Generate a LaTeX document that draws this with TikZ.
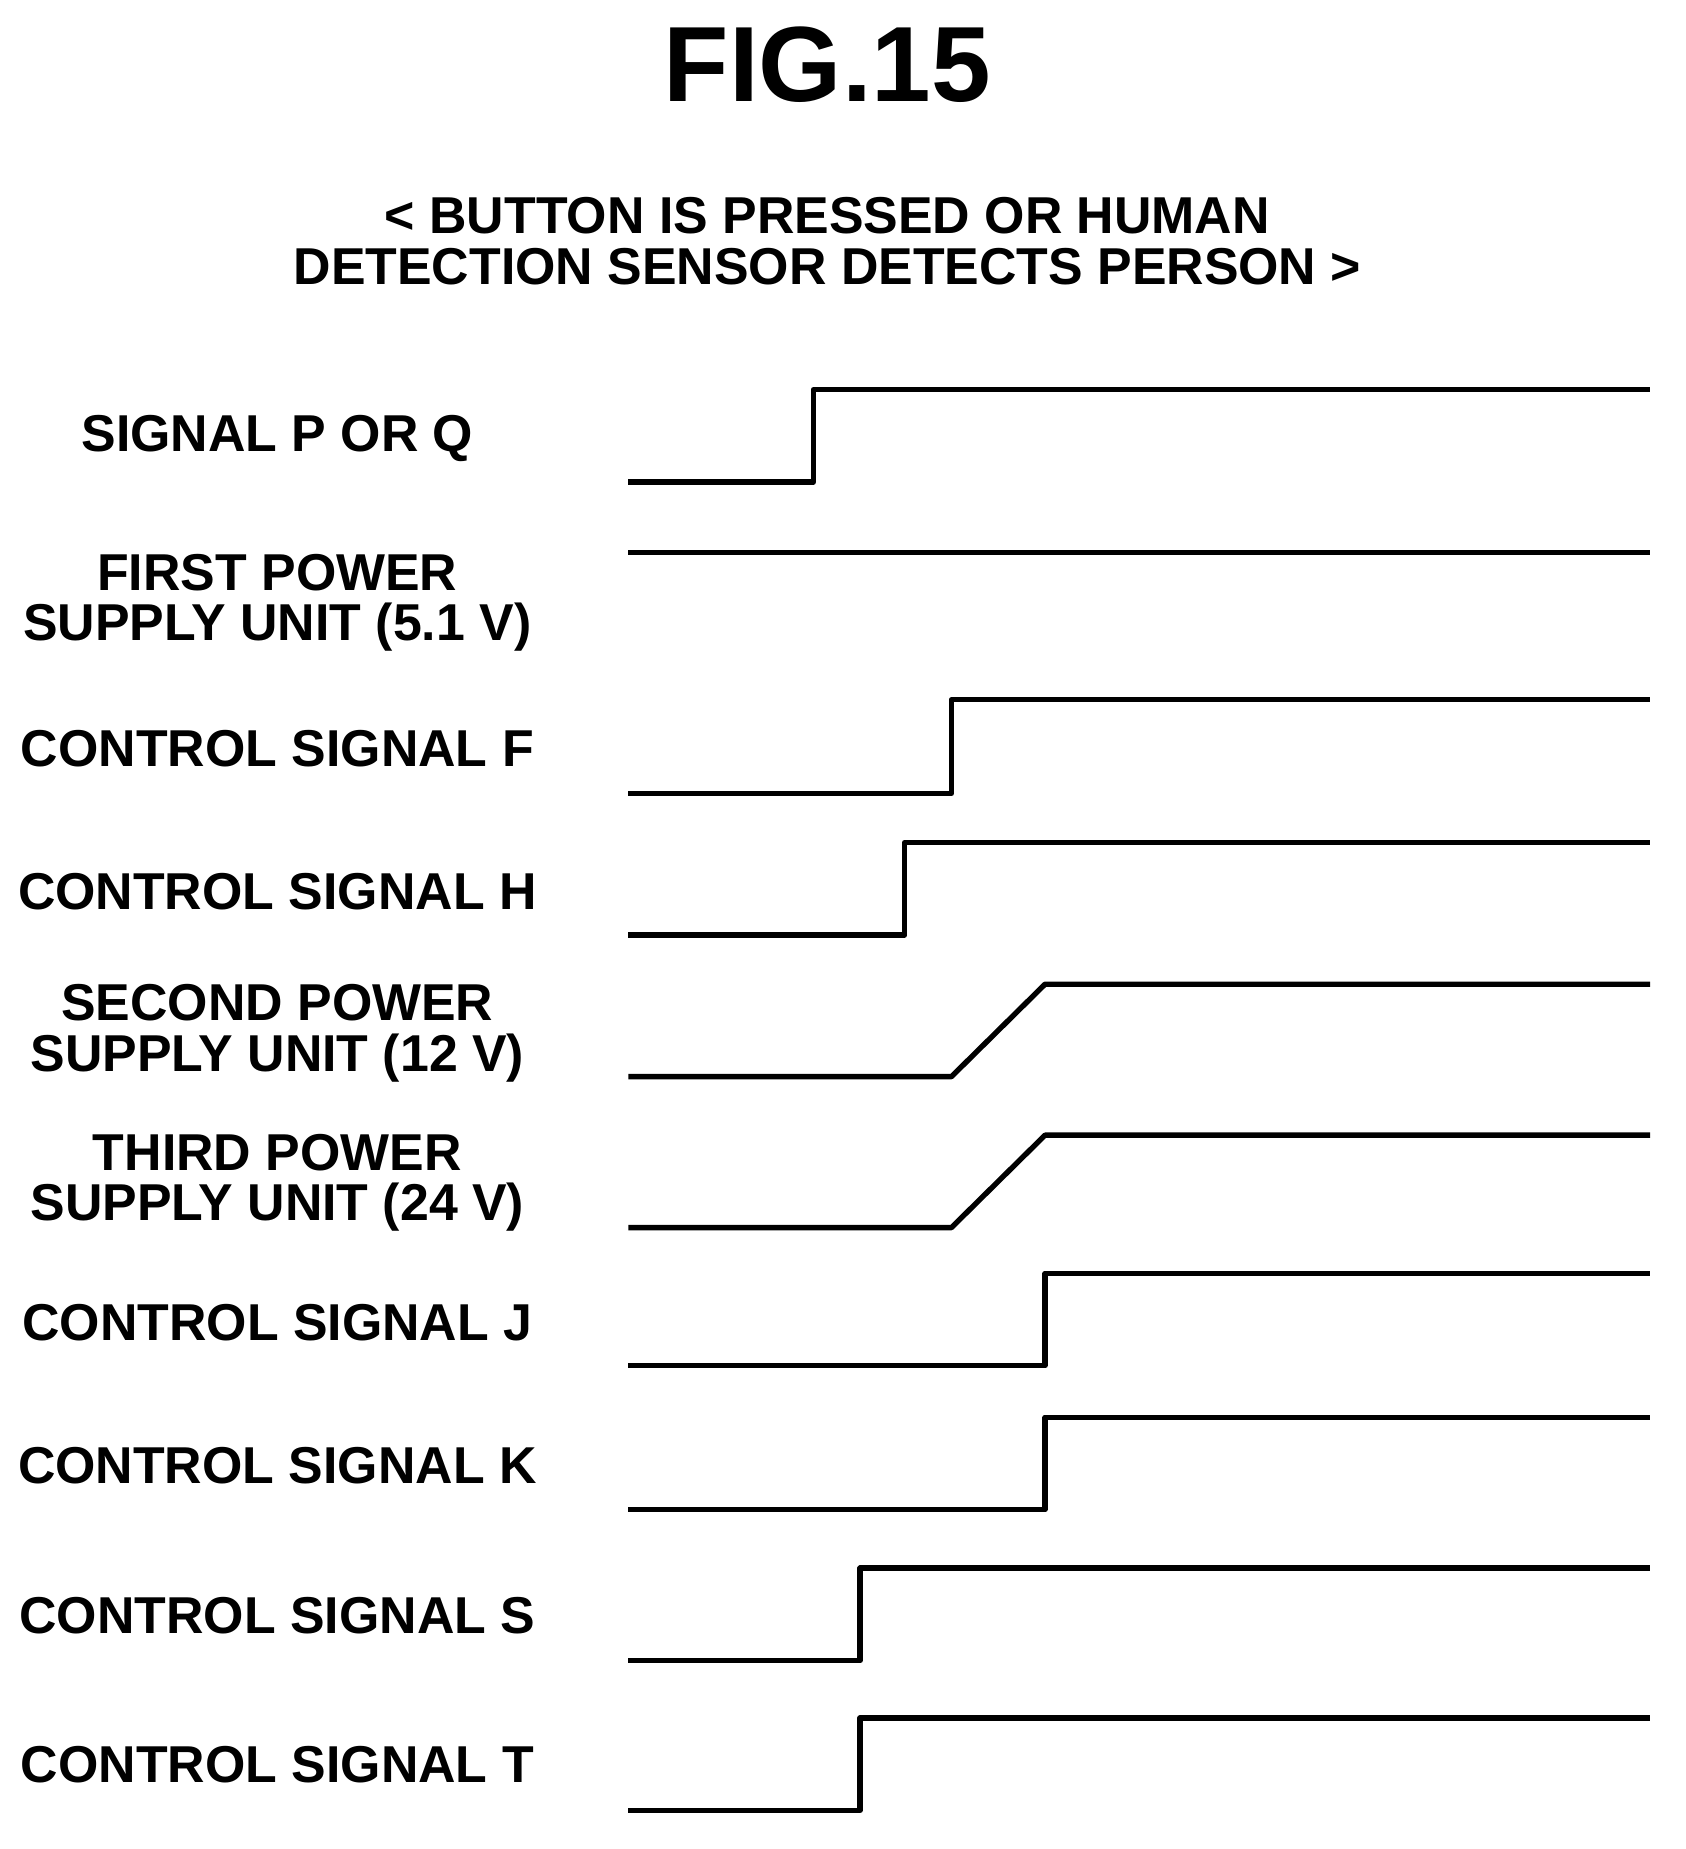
\documentclass[tikz,border=0pt]{standalone}
\usepackage{fontspec}
\setmainfont{Liberation Sans}
\begin{document}
\begin{tikzpicture}[x=0.01cm,y=-0.01cm,wave/.style={line width=1.3pt,line join=round},
  lbl/.style={font=\bfseries\fontsize{12.6}{12.2}\selectfont,align=center}]
          \useasboundingbox (0,0) rectangle (1440,1580);
          \node[font=\bfseries\fontsize{26}{26}\selectfont] (title) at (707,55) {FIG.15};
          \node[lbl] (cond) at (707,206) {< BUTTON IS PRESSED OR HUMAN\\DETECTION SENSOR DETECTS PERSON >};
          \node[lbl] (PQ) at (237,375) {SIGNAL P OR Q};
          \node[lbl] (V5) at (237,515) {FIRST POWER\\SUPPLY UNIT (5.1 V)};
          \node[lbl] (F) at (237,640) {CONTROL SIGNAL F};
          \node[lbl] (H) at (237,762) {CONTROL SIGNAL H};
          \node[lbl] (V12) at (237,883) {SECOND POWER\\SUPPLY UNIT (12 V)};
          \node[lbl] (V24) at (237,1011) {THIRD POWER\\SUPPLY UNIT (24 V)};
          \node[lbl] (J) at (237,1130) {CONTROL SIGNAL J};
          \node[lbl] (K) at (237,1252) {CONTROL SIGNAL K};
          \node[lbl] (S) at (237,1381) {CONTROL SIGNAL S};
          \node[lbl] (T) at (237,1508) {CONTROL SIGNAL T};
          \draw[wave] (537,412) -- (695,412) -- (695,333) -- (1410,333);
          \draw[wave] (537,472) -- (1410,472);
          \draw[wave] (537,678) -- (813,678) -- (813,598) -- (1410,598);
          \draw[wave] (537,799) -- (773,799) -- (773,720) -- (1410,720);
          \draw[wave] (537,920) -- (813,920) -- (893,841) -- (1410,841);
          \draw[wave] (537,1049) -- (813,1049) -- (893,970) -- (1410,970);
          \draw[wave] (537,1167) -- (893,1167) -- (893,1088) -- (1410,1088);
          \draw[wave] (537,1290) -- (893,1290) -- (893,1211) -- (1410,1211);
          \draw[wave] (537,1419) -- (735,1419) -- (735,1340) -- (1410,1340);
          \draw[wave] (537,1547) -- (735,1547) -- (735,1468) -- (1410,1468);
        \end{tikzpicture}
\end{document}
